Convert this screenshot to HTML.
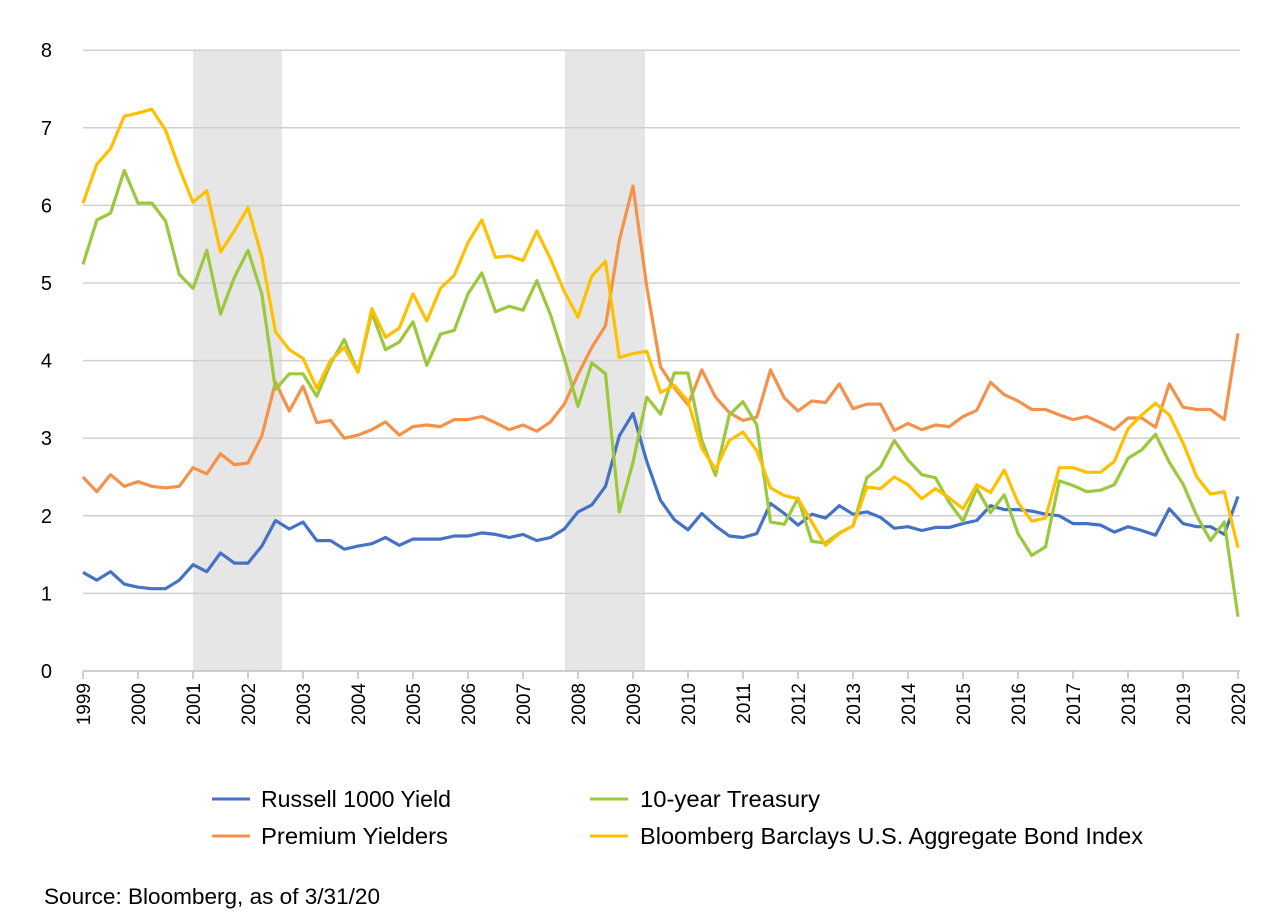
<!DOCTYPE html>
<html><head><meta charset="utf-8"><style>
body{margin:0;background:#fff;}
svg{display:block;font-family:"Liberation Sans",sans-serif;}
</style></head><body>
<svg id="c" width="1280" height="918" xmlns="http://www.w3.org/2000/svg">
<rect x="193" y="50" width="89" height="621" fill="#e6e6e6"/>
<rect x="565" y="50" width="80" height="621" fill="#e6e6e6"/>
<g id="grid" stroke="#d0d0d0" stroke-width="1.5"></g>
<g id="yl" font-size="20" fill="#000" text-anchor="end"></g>
<g id="xl" font-size="19" fill="#000"></g>
<g id="lines" fill="none" stroke-width="3.2" stroke-linejoin="round"></g>
<g font-size="23" fill="#000">
<line x1="212" y1="799" x2="250" y2="799" stroke="#4472c4" stroke-width="3"/>
<text x="261" y="807" textLength="190" lengthAdjust="spacingAndGlyphs">Russell 1000 Yield</text>
<line x1="212" y1="836" x2="250" y2="836" stroke="#f4914a" stroke-width="3"/>
<text x="261" y="844" textLength="187" lengthAdjust="spacingAndGlyphs">Premium Yielders</text>
<line x1="590" y1="799" x2="628" y2="799" stroke="#9bc83c" stroke-width="3"/>
<text x="640" y="807" textLength="180" lengthAdjust="spacingAndGlyphs">10-year Treasury</text>
<line x1="590" y1="836" x2="628" y2="836" stroke="#ffc000" stroke-width="3"/>
<text x="640" y="844" textLength="503" lengthAdjust="spacingAndGlyphs">Bloomberg Barclays U.S. Aggregate Bond Index</text>
<text x="44" y="904" font-size="22" textLength="336" lengthAdjust="spacingAndGlyphs">Source: Bloomberg, as of 3/31/20</text>
</g>
</svg>
<script>
var NS="http://www.w3.org/2000/svg";
function el(t,a,p,txt){var e=document.createElementNS(NS,t);for(var k in a)e.setAttribute(k,a[k]);if(txt!==undefined)e.textContent=txt;document.getElementById(p).appendChild(e);return e;}
function Y(v){return 671-v*77.6;}
function X(i){return 83+i*13.75;}
for(var v=0;v<=8;v++){
 if(v>0) el("line",{x1:83,x2:1240,y1:Y(v),y2:Y(v)},"grid");
 el("text",{x:52,y:Y(v)+7},"yl",String(v));
}
el("line",{x1:83,x2:1240,y1:671,y2:671,stroke:"#bfbfbf"},"grid");
for(var y=0;y<=21;y++){
 var x=83+y*55;
 el("line",{x1:x,x2:x,y1:671,y2:679,stroke:"#bfbfbf"},"grid");
 el("text",{transform:"translate("+(x+7)+",683) rotate(-90)","text-anchor":"end"},"xl",String(1999+y));
}
var S={
"#4472c4":[1.27,1.17,1.28,1.12,1.08,1.06,1.06,1.17,1.37,1.28,1.52,1.39,1.39,1.61,1.94,1.83,1.92,1.68,1.68,1.57,1.61,1.64,1.72,1.62,1.70,1.70,1.70,1.74,1.74,1.78,1.76,1.72,1.76,1.68,1.72,1.83,2.05,2.14,2.38,3.03,3.32,2.70,2.20,1.95,1.82,2.03,1.87,1.74,1.72,1.77,2.16,2.03,1.88,2.02,1.97,2.13,2.02,2.05,1.98,1.84,1.86,1.81,1.85,1.85,1.90,1.94,2.13,2.08,2.08,2.06,2.02,2.00,1.90,1.90,1.88,1.79,1.86,1.81,1.75,2.09,1.90,1.86,1.86,1.76,2.25],
"#f4914a":[2.50,2.31,2.53,2.38,2.44,2.38,2.36,2.38,2.62,2.54,2.80,2.66,2.68,3.03,3.72,3.35,3.67,3.20,3.23,3.00,3.04,3.11,3.21,3.04,3.15,3.17,3.15,3.24,3.24,3.28,3.20,3.11,3.17,3.09,3.21,3.44,3.82,4.17,4.45,5.55,6.25,4.95,3.92,3.65,3.43,3.88,3.53,3.33,3.23,3.27,3.88,3.52,3.35,3.48,3.46,3.70,3.38,3.44,3.44,3.10,3.19,3.11,3.17,3.15,3.28,3.36,3.72,3.56,3.48,3.37,3.37,3.30,3.24,3.28,3.20,3.11,3.26,3.26,3.14,3.70,3.40,3.37,3.37,3.24,4.35],
"#9bc83c":[5.24,5.81,5.90,6.45,6.03,6.03,5.80,5.11,4.93,5.42,4.60,5.07,5.42,4.86,3.63,3.83,3.83,3.54,3.96,4.27,3.85,4.62,4.14,4.24,4.50,3.94,4.34,4.39,4.86,5.13,4.63,4.70,4.65,5.03,4.59,4.03,3.41,3.97,3.83,2.05,2.69,3.53,3.31,3.84,3.84,2.97,2.52,3.30,3.47,3.17,1.92,1.89,2.23,1.67,1.65,1.78,1.87,2.49,2.63,2.97,2.72,2.53,2.49,2.17,1.93,2.35,2.04,2.27,1.77,1.49,1.60,2.45,2.39,2.31,2.33,2.40,2.74,2.85,3.05,2.69,2.41,2.00,1.68,1.92,0.70],
"#ffc000":[6.03,6.53,6.73,7.15,7.19,7.24,6.97,6.48,6.04,6.19,5.40,5.67,5.97,5.34,4.37,4.14,4.03,3.64,4.00,4.17,3.85,4.67,4.30,4.42,4.86,4.51,4.93,5.10,5.52,5.81,5.33,5.35,5.29,5.67,5.31,4.89,4.56,5.09,5.28,4.04,4.09,4.12,3.59,3.68,3.48,2.87,2.60,2.97,3.08,2.84,2.36,2.26,2.22,1.92,1.62,1.77,1.87,2.37,2.35,2.50,2.40,2.22,2.35,2.23,2.09,2.40,2.30,2.59,2.17,1.93,1.97,2.62,2.62,2.56,2.56,2.70,3.12,3.30,3.45,3.30,2.94,2.50,2.28,2.31,1.59]};
["#4472c4","#f4914a","#9bc83c","#ffc000"].forEach(function(c){
 var p=S[c].map(function(v,i){return X(i).toFixed(1)+","+Y(v).toFixed(1);}).join(" ");
 el("polyline",{points:p,stroke:c},"lines");
});
</script>
</body></html>
